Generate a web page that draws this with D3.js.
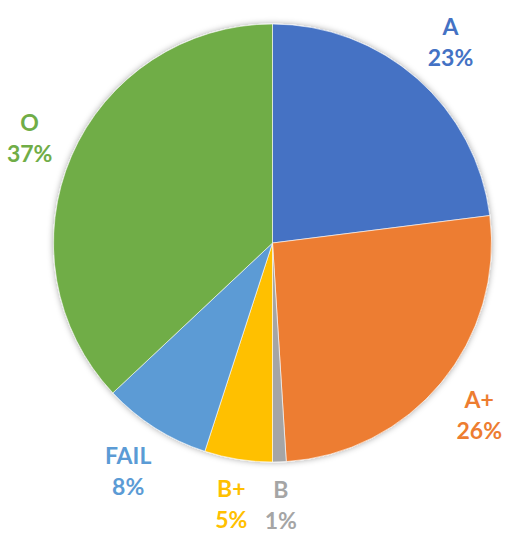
<!DOCTYPE html>
<html><head><meta charset="utf-8">
<script src="https://cdn.jsdelivr.net/npm/d3@7"></script>
<style>body{margin:0;background:#fff}svg{display:block}</style>
</head><body>
<svg id="c" width="507" height="540"></svg>
<script>
const categories = ["A", "A+", "B", "B+", "FAIL", "O"];
const values = [23, 26, 1, 5, 8, 37];
const colors = ["#4472C4", "#ED7D31", "#A5A5A5", "#FFC000", "#5B9BD5", "#70AD47"];

const svg = d3.select("#c");
const cx = 272.5, cy = 243, R = 219;
const defs = svg.append("defs");
const f = defs.append("filter").attr("id","sh").attr("x","-20%").attr("y","-20%").attr("width","140%").attr("height","140%");
f.append("feDropShadow").attr("dx",0).attr("dy",0).attr("stdDeviation",3).attr("flood-color","#000").attr("flood-opacity",0.35);

const data = categories.map((c,i)=>({cat:c,val:values[i],color:colors[i]}));
const pie = d3.pie().value(d=>d.val).sort(null);
const arcs = pie(data);
const arc = d3.arc().innerRadius(0).outerRadius(R);
const total = d3.sum(values);

const g = svg.append("g").attr("transform",`translate(${cx},${cy})`);
g.append("g").attr("filter","url(#sh)").selectAll("path").data(arcs).join("path")
  .attr("d",arc).attr("fill",d=>d.data.color).attr("stroke","#fff").attr("stroke-width",0.6);

const gap = 13;
arcs.forEach(a=>{
  const mid = (a.startAngle+a.endAngle)/2;
  const ux = Math.sin(mid), uy = -Math.cos(mid);
  const t = g.append("text").attr("text-anchor","middle")
    .attr("font-family","Lato, 'Open Sans', sans-serif").attr("font-weight","bold")
    .attr("font-size",23).attr("fill",a.data.color);
  t.append("tspan").attr("x",0).attr("y",0).text(a.data.cat);
  t.append("tspan").attr("x",0).attr("dy",31).text(Math.round(a.data.val/total*100)+"%");
  const bb = t.node().getBBox();
  const bcx = bb.x+bb.width/2, bcy = bb.y+bb.height/2;
  const ext = Math.abs(ux)*bb.width/2 + Math.abs(uy)*bb.height/2;
  const d = R + gap + ext;
  t.attr("transform",`translate(${ux*d-bcx},${uy*d-bcy})`);
});
</script>
</body></html>
